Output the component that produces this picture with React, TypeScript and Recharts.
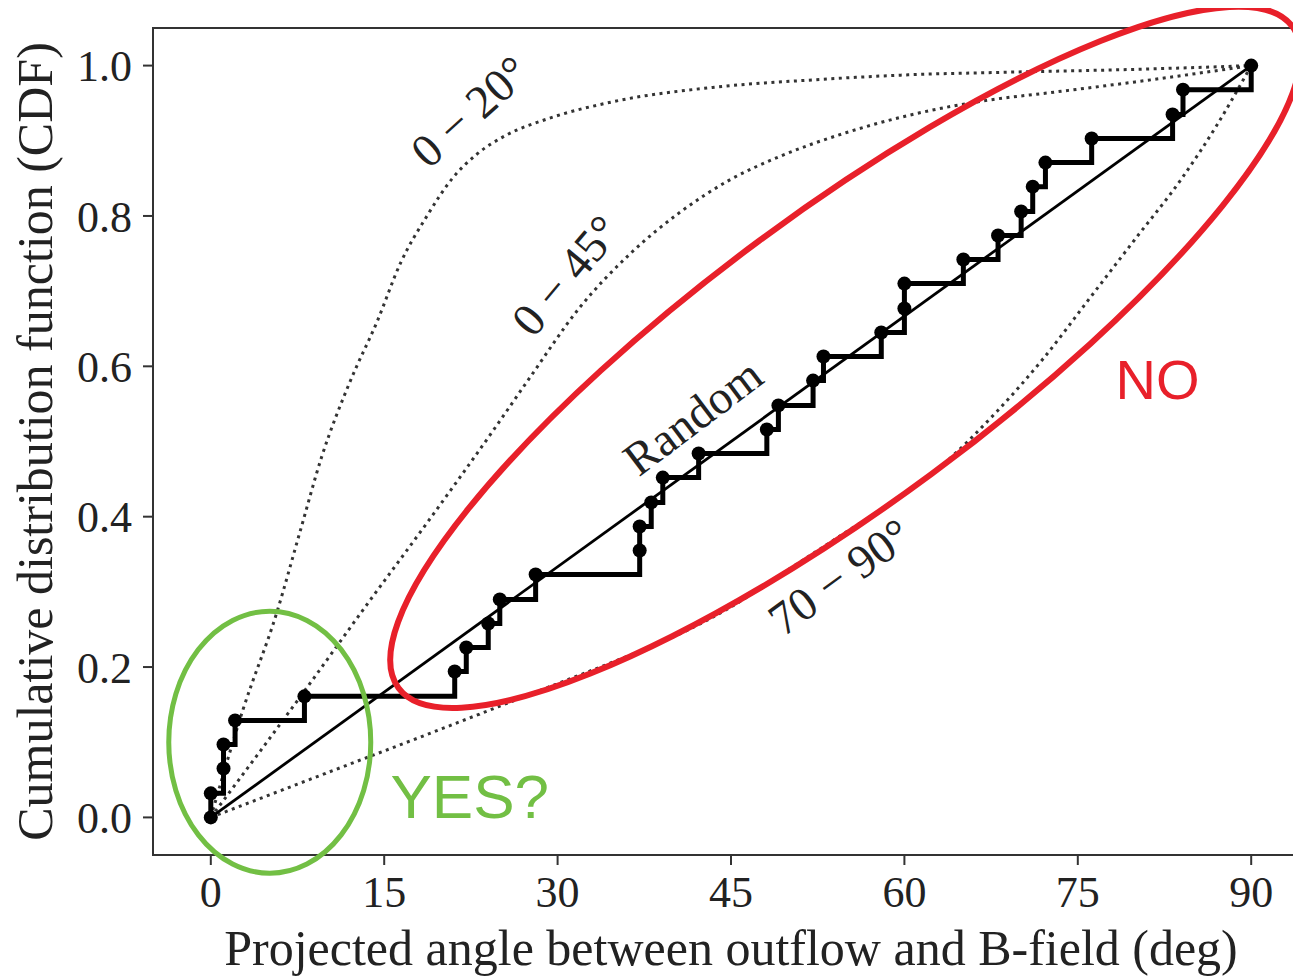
import { LineChart, Line, XAxis, YAxis, ReferenceArea, ReferenceDot } from "recharts"

// observed CDF (31 objects), stepped
const cdfAngles = [0, 0, 1.1, 1.1, 2.1, 8.1, 21.1, 22.1, 24.0, 25.0, 28.1, 37.1, 37.1, 38.1, 39.1, 42.2, 48.1, 49.1, 52.1, 53.0, 58.0, 60.0, 60.0, 65.1, 68.1, 70.1, 71.1, 72.2, 76.2, 83.2, 84.1, 90]
const cdfValues = [0, 0.032, 0.065, 0.097, 0.129, 0.161, 0.194, 0.226, 0.258, 0.29, 0.323, 0.355, 0.387, 0.419, 0.452, 0.484, 0.516, 0.548, 0.581, 0.613, 0.645, 0.677, 0.71, 0.742, 0.774, 0.806, 0.839, 0.871, 0.903, 0.935, 0.968, 1.0]

// model curves
const randomAngles = [0, 90]
const randomValues = [0, 1]

const twentyAngles = [0, 2.8, 5.7, 7.7, 9.6, 12.0, 14.4, 16.4, 18.7, 20.9, 23.0, 25.5, 29.1, 34.8, 43.4, 52.1, 60.8, 68.3, 80, 90]
const twentyValues = [0, 0.144, 0.272, 0.379, 0.48, 0.578, 0.66, 0.737, 0.8, 0.85, 0.882, 0.907, 0.929, 0.952, 0.971, 0.981, 0.988, 0.991, 0.995, 1.0]

const fortyFiveAngles = [0, 8.0, 13.5, 19.0, 24.4, 27.6, 31.9, 36.3, 40.6, 44.9, 49.2, 55.0, 60.7, 67.7, 72.6, 81.3, 90]
const fortyFiveValues = [0, 0.166, 0.283, 0.398, 0.514, 0.585, 0.678, 0.75, 0.805, 0.848, 0.879, 0.911, 0.935, 0.955, 0.964, 0.981, 1.0]

const seventyAngles = [0, 10, 20, 25, 30, 35, 40, 45, 50, 55, 60, 63, 68, 72, 76, 80, 84, 87, 90]
const seventyValues = [0, 0.059, 0.118, 0.148, 0.178, 0.208, 0.24, 0.28, 0.33, 0.38, 0.43, 0.465, 0.54, 0.61, 0.69, 0.77, 0.85, 0.92, 1.0]

const xTicks = [0, 15, 30, 45, 60, 75, 90]
const yTicks = [0, 0.2, 0.4, 0.6, 0.8, 1.0]

const toPoints = (xs: number[], ys: number[]) => xs.map((x, i) => ({ x, y: ys[i] }))

const serif = "'Liberation Serif', 'DejaVu Serif', serif"
const sans = "'Liberation Sans', Arial, sans-serif"
const ink = "#222"

// rotated curve labels, placed in data coordinates
const curveLabels = [
  { text: "0 − 20°", x: 22.4, y: 0.939, angle: -42 },
  { text: "0 − 45°", x: 30.7, y: 0.721, angle: -50 },
  { text: "Random", x: 41.7, y: 0.533, angle: -37 },
  { text: "70 − 90°", x: 54.4, y: 0.32, angle: -36 },
]

const XLabel = ({ viewBox }: any) => (
  <text
    x={viewBox.x + viewBox.width / 2}
    y={viewBox.y + 110}
    textAnchor="middle"
    fontFamily={serif}
    fontSize={50}
    fill={ink}
  >
    Projected angle between outflow and B-field (deg)
  </text>
)

const YLabel = ({ viewBox }: any) => {
  const cx = viewBox.x + 27
  const cy = viewBox.y + viewBox.height / 2
  return (
    <text
      x={cx}
      y={cy}
      transform={`rotate(-90 ${cx} ${cy})`}
      textAnchor="middle"
      dominantBaseline="central"
      fontFamily={serif}
      fontSize={50}
      fill={ink}
    >
      Cumulative distribution function (CDF)
    </text>
  )
}

export default function App() {
  return (
    <div style={{ width: 1293, overflow: "hidden" }}>
      <LineChart width={1311} height={969} margin={{ top: 20, right: 10, bottom: 0, left: 0 }}>
        <XAxis
          type="number"
          dataKey="x"
          domain={[-5, 95]}
          allowDataOverflow
          ticks={xTicks}
          tickSize={10}
          tickMargin={11}
          stroke="#333"
          strokeWidth={2}
          tick={{ fill: ink, fontSize: 44, fontFamily: serif }}
          height={122}
          label={{ content: <XLabel /> }}
        />
        <YAxis
          type="number"
          dataKey="y"
          domain={[-0.05, 1.05]}
          allowDataOverflow
          ticks={yTicks}
          tickFormatter={(v: number) => v.toFixed(1)}
          tickSize={10}
          tickMargin={11}
          stroke="#333"
          strokeWidth={2}
          tick={{ fill: ink, fontSize: 44, fontFamily: serif }}
          width={145}
          label={{ content: <YLabel /> }}
        />
        <ReferenceArea x1={-5} x2={95} y1={-0.05} y2={1.05} fill="none" stroke="#333" strokeWidth={2} fillOpacity={0} />

        <Line data={toPoints(twentyAngles, twentyValues)} dataKey="y" type="monotone" stroke="#333" strokeWidth={3} strokeDasharray="3 4.5" dot={false} isAnimationActive={false} />
        <Line data={toPoints(fortyFiveAngles, fortyFiveValues)} dataKey="y" type="monotone" stroke="#333" strokeWidth={3} strokeDasharray="3 4.5" dot={false} isAnimationActive={false} />
        <Line data={toPoints(seventyAngles, seventyValues)} dataKey="y" type="monotone" stroke="#333" strokeWidth={3} strokeDasharray="3 4.5" dot={false} isAnimationActive={false} />
        <Line data={toPoints(randomAngles, randomValues)} dataKey="y" type="linear" stroke="#000" strokeWidth={2.8} dot={false} isAnimationActive={false} />
        <Line
          data={toPoints(cdfAngles, cdfValues)}
          dataKey="y"
          type="stepAfter"
          stroke="#000"
          strokeWidth={5}
          dot={{ r: 7, fill: "#000", stroke: "#000", strokeWidth: 0 }}
          isAnimationActive={false}
        />

        {curveLabels.map((l) => (
          <ReferenceDot
            key={l.text}
            x={l.x}
            y={l.y}
            ifOverflow="visible"
            shape={(p: any) => (
              <text
                x={p.cx}
                y={p.cy}
                transform={`rotate(${l.angle} ${p.cx} ${p.cy})`}
                textAnchor="middle"
                dominantBaseline="central"
                fontFamily={serif}
                fontSize={47}
                fill={ink}
              >
                {l.text}
              </text>
            )}
          />
        ))}

        {/* annotations drawn over the figure */}
        <ReferenceDot
          x={5.1}
          y={0.1}
          ifOverflow="visible"
          shape={(p: any) => (
            <ellipse cx={p.cx} cy={p.cy} rx={101} ry={131} fill="none" stroke="#72bf44" strokeWidth={5} />
          )}
        />
        <ReferenceDot
          x={54.9}
          y={0.612}
          ifOverflow="visible"
          shape={(p: any) => (
            <ellipse
              cx={p.cx}
              cy={p.cy}
              rx={556}
              ry={145}
              transform={`rotate(-36.5 ${p.cx} ${p.cy})`}
              fill="none"
              stroke="#e8202a"
              strokeWidth={6}
            />
          )}
        />
        <ReferenceDot
          x={22.4}
          y={0.028}
          ifOverflow="visible"
          shape={(p: any) => (
            <text x={p.cx} y={p.cy} textAnchor="middle" dominantBaseline="central" fontFamily={sans} fontSize={62} fill="#72bf44">
              YES?
            </text>
          )}
        />
        <ReferenceDot
          x={81.9}
          y={0.582}
          ifOverflow="visible"
          shape={(p: any) => (
            <text x={p.cx} y={p.cy} textAnchor="middle" dominantBaseline="central" fontFamily={sans} fontSize={56} fill="#e8202a">
              NO
            </text>
          )}
        />
      </LineChart>
    </div>
  )
}
